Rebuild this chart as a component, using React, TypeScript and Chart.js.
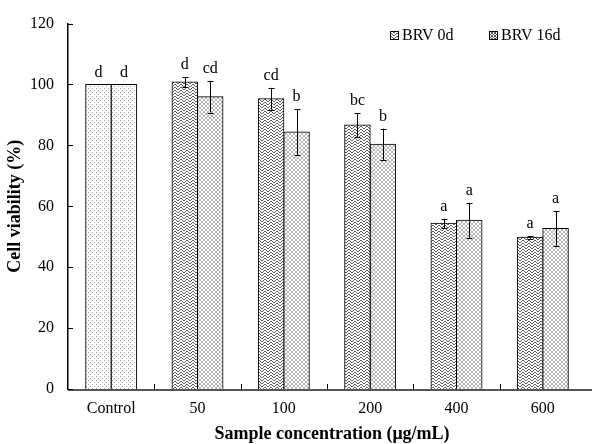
import React, { useEffect, useRef } from "react";
import { Chart, registerables } from "chart.js";
Chart.register(...registerables);

const categories = ["Control", "50", "100", "200", "400", "600"];
const seriesNames = ["BRV 0d", "BRV 16d"];
const brv0d = [100, 100.8, 95.3, 86.7, 54.4, 49.8];
const brv0dErr = [0, 1.7, 3.6, 3.9, 1.5, 0.4];
const brv16d = [100, 96.0, 84.4, 80.4, 55.4, 52.7];
const brv16dErr = [0, 5.2, 7.5, 5.1, 5.8, 5.7];
const brv0dLetters = ["d", "d", "cd", "bc", "a", "a"];
const brv16dLetters = ["d", "cd", "b", "b", "a", "a"];
const yMin = 0;
const yMax = 120;
const yStep = 20;
const xTitle = "Sample concentration (\u03bcg/mL)";
const yTitle = "Cell viability (%)";

const SERIF = "'Liberation Serif', 'Times New Roman', serif";

function makePattern(kind: string): CanvasPattern {
  const c = document.createElement("canvas");
  let px: number[][] = [];
  let color = "#888";
  if (kind === "dots") {
    c.width = 4; c.height = 4;
    px = [[0, 0], [2, 2]];
    color = "#9a9a9a";
  } else if (kind === "wave") {
    c.width = 6; c.height = 3;
    const ys = [0, 0, 1, 2, 2, 1];
    px = ys.map((y, x) => [x, y]);
    color = "#5e5e5e";
  } else if (kind === "cross") {
    c.width = 4; c.height = 4;
    px = [[0, 0], [1, 1], [2, 2], [3, 3], [0, 3], [1, 2], [2, 1], [3, 0]];
    color = "#b5b5b5";
  } else {
    c.width = 3; c.height = 3;
    px = [[0, 0], [1, 1], [2, 2], [0, 2], [2, 0]];
    color = "#555";
  }
  const ctx = c.getContext("2d")!;
  ctx.fillStyle = "#fff";
  ctx.fillRect(0, 0, c.width, c.height);
  ctx.fillStyle = color;
  px.forEach(([x, y]) => ctx.fillRect(x, y, 1, 1));
  return ctx.createPattern(c, "repeat")!;
}

export default function App() {
  const ref = useRef<HTMLCanvasElement>(null);
  useEffect(() => {
    const canvas = ref.current!;
    const dots = makePattern("dots");
    const wave = makePattern("wave");
    const cross = makePattern("cross");
    const dark = makePattern("dark");
    const bg0 = categories.map((_, i) => (i === 0 ? dots : wave));
    const bg1 = categories.map((_, i) => (i === 0 ? dots : cross));
    const errs = [brv0dErr, brv16dErr];
    const vals = [brv0d, brv16d];
    const letters = [brv0dLetters, brv16dLetters];

    const overlay = {
      id: "overlay",
      afterDatasetsDraw(chart: any) {
        const ctx = chart.ctx as CanvasRenderingContext2D;
        const ys = chart.scales.y;
        const area = chart.chartArea;
        ctx.save();
        // x axis line
        ctx.strokeStyle = "#555";
        ctx.lineWidth = 2;
        ctx.beginPath();
        ctx.moveTo(area.left, area.bottom + 1);
        ctx.lineTo(592, area.bottom + 1);
        ctx.stroke();
        // error bars
        ctx.strokeStyle = "#000";
        ctx.lineWidth = 1;
        for (let d = 0; d < 2; d++) {
          const meta = chart.getDatasetMeta(d);
          meta.data.forEach((bar: any, i: number) => {
            const v = vals[d][i];
            const e = errs[d][i];
            const x = Math.round(bar.x) + 0.5;
            if (e > 0) {
              const yt = ys.getPixelForValue(v + e);
              const yb = ys.getPixelForValue(v - e);
              ctx.beginPath();
              ctx.moveTo(x, yt); ctx.lineTo(x, yb);
              ctx.moveTo(x - 3, Math.round(yt) + 0.5); ctx.lineTo(x + 3, Math.round(yt) + 0.5);
              ctx.moveTo(x - 3, Math.round(yb) + 0.5); ctx.lineTo(x + 3, Math.round(yb) + 0.5);
              ctx.stroke();
            }
            ctx.fillStyle = "#000";
            ctx.font = `16px ${SERIF}`;
            ctx.textAlign = "center";
            ctx.textBaseline = "alphabetic";
            ctx.fillText(letters[d][i], bar.x, ys.getPixelForValue(v + e) - 8);
          });
        }
        // inward ticks
        ctx.strokeStyle = "#000";
        ctx.lineWidth = 1;
        ctx.beginPath();
        for (let t = yMin; t <= yMax; t += yStep) {
          const y = Math.round(ys.getPixelForValue(t)) + 0.5;
          ctx.moveTo(area.left, y); ctx.lineTo(area.left + 5, y);
        }
        const cw = (area.right - area.left) / categories.length;
        for (let i = 1; i < categories.length; i++) {
          const x = Math.round(area.left + i * cw) + 0.5;
          ctx.moveTo(x, area.bottom); ctx.lineTo(x, area.bottom - 5);
        }
        ctx.stroke();
        // x axis title
        ctx.fillStyle = "#000";
        ctx.font = `bold 18px ${SERIF}`;
        ctx.textAlign = "center";
        ctx.textBaseline = "middle";
        ctx.fillText(xTitle, 332, 434.5);
        // legend
        const items = [
          { x: 390, pat: wave, text: seriesNames[0] },
          { x: 489, pat: dark, text: seriesNames[1] },
        ];
        items.forEach((it) => {
          ctx.fillStyle = it.pat as any;
          ctx.fillRect(it.x, 31, 8, 8);
          ctx.strokeStyle = "#000";
          ctx.strokeRect(it.x + 0.5, 31.5, 8, 8);
          ctx.fillStyle = "#000";
          ctx.font = `16px ${SERIF}`;
          ctx.textAlign = "left";
          ctx.textBaseline = "middle";
          ctx.fillText(it.text, it.x + 12, 36);
        });
        ctx.restore();
      },
    };

    const chart = new Chart(canvas, {
      type: "bar",
      data: {
        labels: categories,
        datasets: [
          { label: seriesNames[0], data: brv0d, backgroundColor: bg0 as any, borderColor: "#000", borderWidth: 1 },
          { label: seriesNames[1], data: brv16d, backgroundColor: bg1 as any, borderColor: "#000", borderWidth: 1 },
        ],
      },
      options: {
        responsive: false,
        animation: false,
        devicePixelRatio: 1,
        layout: { padding: { top: 20, right: 8, left: 0, bottom: 0 } },
        datasets: { bar: { categoryPercentage: 0.59, barPercentage: 1, inflateAmount: 0.5 } },
        plugins: { legend: { display: false }, tooltip: { enabled: false } },
        scales: {
          x: {
            offset: true,
            grid: { display: false, drawTicks: false },
            border: { display: false },
            ticks: { color: "#000", font: { family: SERIF, size: 16 }, padding: 10 },
            title: { display: false, text: xTitle },
            afterFit: (s: any) => { s.height = 55; },
          },
          y: {
            min: yMin,
            max: yMax,
            grid: { display: false, drawTicks: false },
            border: { display: true, color: "#000", width: 1.5 },
            ticks: { stepSize: yStep, color: "#000", font: { family: SERIF, size: 16 }, padding: 14 },
            title: { display: true, text: yTitle, color: "#000", font: { family: SERIF, size: 18, weight: "bold", lineHeight: 1 }, padding: { top: 6, bottom: 0 } },
            afterFit: (s: any) => { s.width = 68; },
          },
        },
      } as any,
      plugins: [overlay],
    });
    return () => chart.destroy();
  }, []);
  return (
    <div style={{ position: "absolute", left: 0, top: 0, width: 594, height: 444, background: "#fff" }}>
      <canvas ref={ref} width={594} height={444} style={{ display: "block" }} />
    </div>
  );
}
